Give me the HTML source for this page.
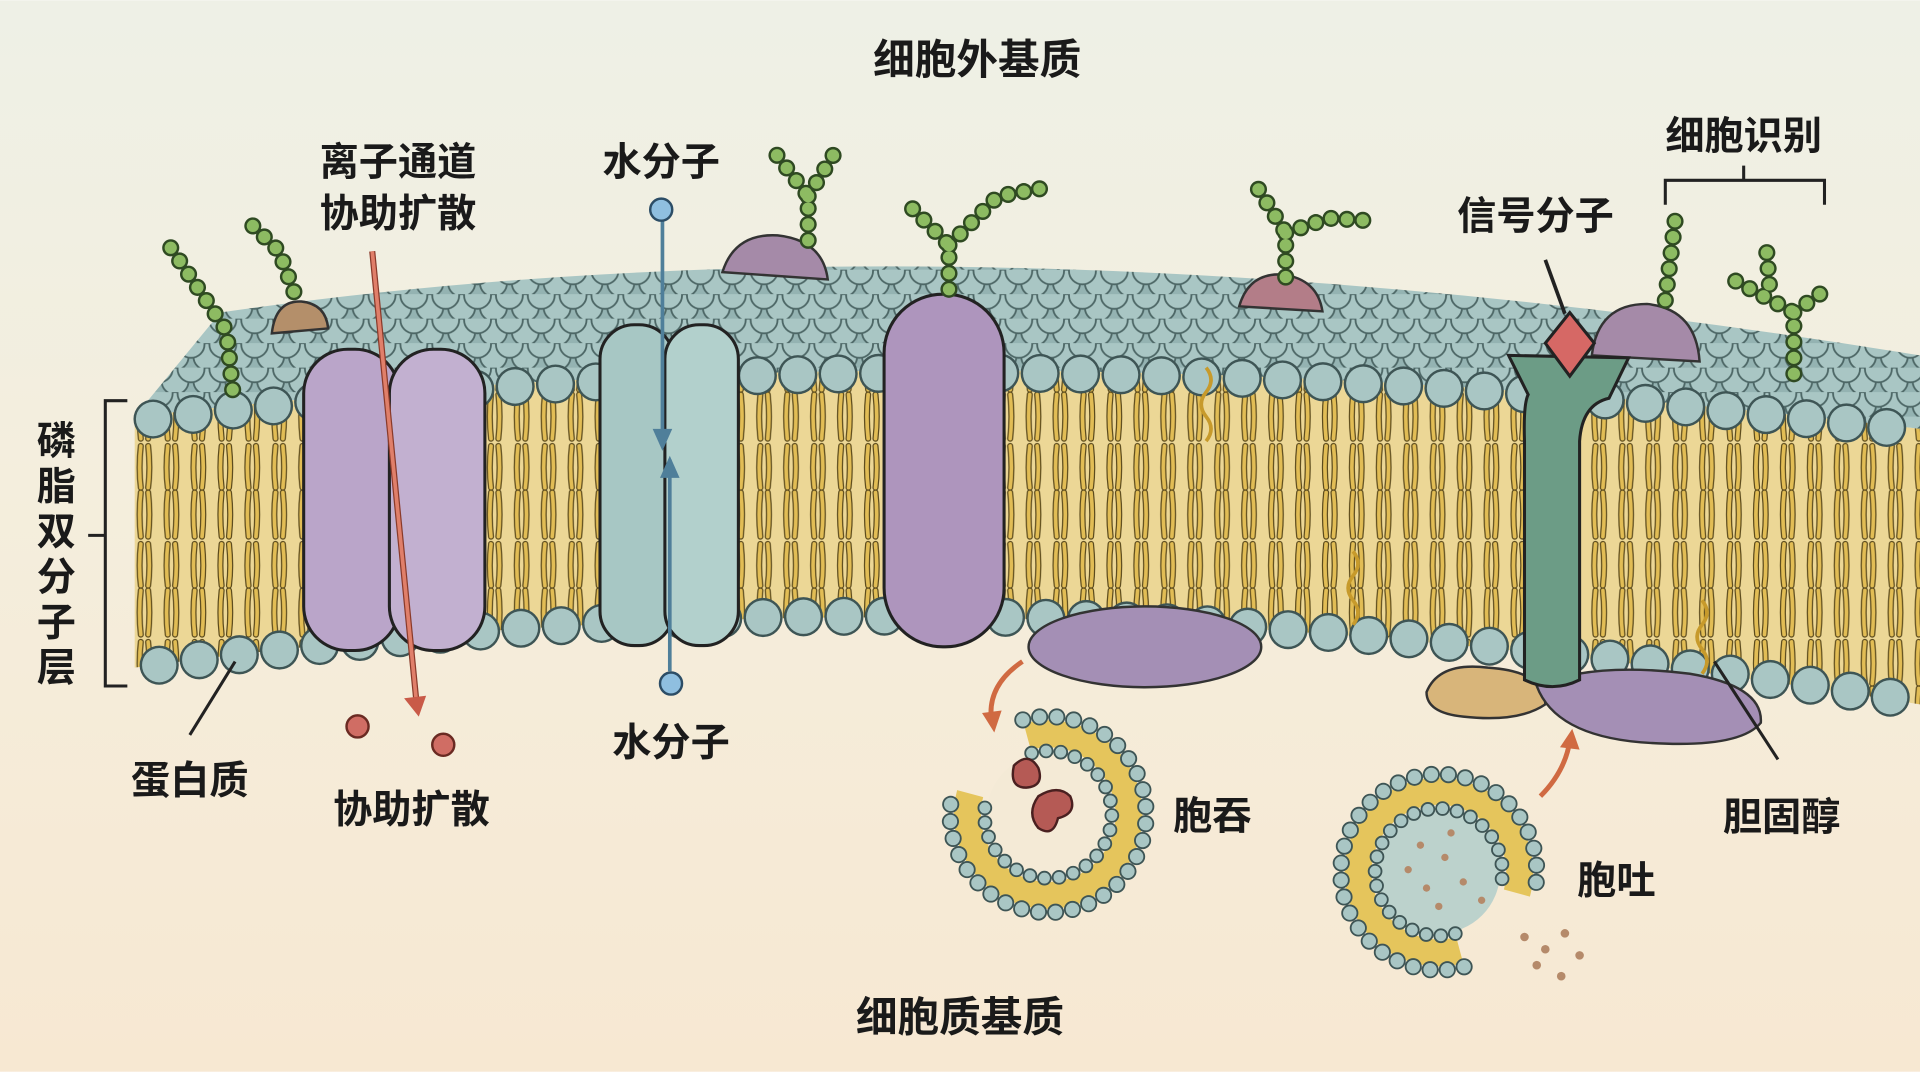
<!DOCTYPE html>
<html><head><meta charset="utf-8"><style>
html,body{margin:0;padding:0;width:1920px;height:1072px;overflow:hidden}
svg{display:block}
text{font-family:"Liberation Sans","Noto Sans CJK SC",sans-serif;font-weight:bold;fill:#1a1a1a}
</style></head><body>
<svg width="1920" height="1072" viewBox="0 0 1568 875" xmlns="http://www.w3.org/2000/svg">
<defs>
<linearGradient id="bg" x1="0" y1="0" x2="0" y2="1">
<stop offset="0" stop-color="#eef0e6"/><stop offset="0.45" stop-color="#f4eedd"/><stop offset="1" stop-color="#f7e8d2"/></linearGradient>
<pattern id="heads" width="26" height="20" patternUnits="userSpaceOnUse">
<rect width="26" height="20" fill="#94b3b2"/>
<circle cx="13" cy="11" r="11" fill="#a9c6c4" stroke="#4d6766" stroke-width="1.5"/>
<circle cx="0" cy="1" r="11" fill="#a9c6c4" stroke="#4d6766" stroke-width="1.5"/>
<circle cx="26" cy="1" r="11" fill="#a9c6c4" stroke="#4d6766" stroke-width="1.5"/>
</pattern>
<pattern id="tails" width="22" height="80" patternUnits="userSpaceOnUse">
<rect width="22" height="80" fill="#ecd796"/>
<path d="M5,2 q-2,18 0,36 M11,2 q2,18 0,36 M5,44 q-2,18 0,34 M11,44 q2,18 0,34" stroke="#5b4a1c" stroke-width="5" fill="none" stroke-linecap="round"/>
<path d="M5,2 q-2,18 0,36 M11,2 q2,18 0,36 M5,44 q-2,18 0,34 M11,44 q2,18 0,34" stroke="#e2bd55" stroke-width="3" fill="none" stroke-linecap="round"/>
</pattern>
</defs>
<rect width="1568" height="875" fill="url(#bg)"/>

<!-- top surface -->
<path d="M180,255 Q800,165 1568,290 L1568,350 Q800,260 110,340 Z" fill="url(#heads)"/>
<!-- front face -->
<path d="M110,340 Q800,260 1568,350 L1568,575 Q800,450 110,545 Z" fill="url(#tails)"/>
<!-- head rows -->
<g fill="none" stroke-linecap="round">
<path d="M125,342 Q800,262 1568,352" stroke="#3e5555" stroke-width="32" stroke-dasharray="0 33"/>
<path d="M125,342 Q800,262 1568,352" stroke="#a9c6c4" stroke-width="28" stroke-dasharray="0 33"/>
<path d="M130,543 Q800,450 1568,573" stroke="#3e5555" stroke-width="32" stroke-dasharray="0 33"/>
<path d="M130,543 Q800,450 1568,573" stroke="#a9c6c4" stroke-width="28" stroke-dasharray="0 33"/>
</g>

<!-- bumps on top -->
<path d="M222,272 Q225,245 246,246 Q266,248 268,268 Z" fill="#b48f6a" stroke="#333" stroke-width="2"/>
<path d="M590,222 Q600,190 635,192 Q672,196 676,228 Z" fill="#a58aa8" stroke="#333" stroke-width="2"/>
<path d="M1012,250 Q1020,222 1048,224 Q1076,228 1080,254 Z" fill="#b37d88" stroke="#333" stroke-width="2"/>
<path d="M1300,290 Q1305,248 1345,248 Q1385,252 1388,295 Z" fill="#a58aa8" stroke="#333" stroke-width="2"/>

<!-- ion channel -->
<rect x="248" y="285" width="78" height="246" rx="36" fill="#baa5c9" stroke="#222" stroke-width="2.5"/>
<rect x="318" y="285" width="78" height="246" rx="36" fill="#c2b0d0" stroke="#222" stroke-width="2.5"/>
<!-- water channel -->
<rect x="490" y="265" width="60" height="262" rx="28" fill="#a7c7c4" stroke="#222" stroke-width="2.5"/>
<rect x="543" y="265" width="60" height="262" rx="28" fill="#b2d0cc" stroke="#222" stroke-width="2.5"/>
<!-- big oval protein -->
<rect x="722" y="240" width="98" height="288" rx="48" fill="#ae95bd" stroke="#222" stroke-width="2.5"/>
<!-- peripheral bottom -->
<ellipse cx="935" cy="528" rx="95" ry="33" fill="#a48fb5" stroke="#333" stroke-width="2"/>
<!-- receptor bottom blobs -->
<path d="M1165,565 Q1175,540 1215,545 Q1262,548 1262,575 Q1240,590 1195,585 Q1165,582 1165,565 Z" fill="#d8b57a" stroke="#333" stroke-width="2"/>
<path d="M1255,560 Q1300,540 1380,550 Q1440,560 1438,590 Q1420,612 1340,606 Q1270,600 1255,560 Z" fill="#a48fb5" stroke="#333" stroke-width="2"/>
<!-- receptor green -->
<path d="M1232,290 L1330,292 L1314,325 Q1292,330 1290,360 L1290,555 Q1268,566 1245,555 L1245,360 Q1244,330 1248,322 Z" fill="#6c9c86" stroke="#222" stroke-width="2.5"/>
<path d="M1282,255 L1302,280 L1282,307 L1262,280 Z" fill="#d66865" stroke="#222" stroke-width="2.5"/>
<line x1="1262" y1="212" x2="1278" y2="256" stroke="#222" stroke-width="3"/>

<!-- glycan chains -->
<g fill="none" stroke-linecap="round" stroke-linejoin="round">
<g stroke="#2f4a22" stroke-width="14" stroke-dasharray="0 13">
<path d="M190,318 L185,270 L165,240 L138,200"/><path d="M240,238 L228,205 L200,178"/>
<path d="M660,196 L660,160 L628,118"/><path d="M660,160 L682,124"/>
<path d="M775,236 L775,200 L740,165"/><path d="M775,200 L815,160 L860,152"/>
<path d="M1050,226 L1050,190 L1025,150"/><path d="M1050,190 L1085,178 L1118,180"/>
<path d="M1360,245 L1368,180"/>
<path d="M1465,305 L1465,255 L1415,228"/><path d="M1465,255 L1493,235"/><path d="M1445,232 L1442,195"/>
</g>
<g stroke="#8dbb62" stroke-width="10" stroke-dasharray="0 13">
<path d="M190,318 L185,270 L165,240 L138,200"/><path d="M240,238 L228,205 L200,178"/>
<path d="M660,196 L660,160 L628,118"/><path d="M660,160 L682,124"/>
<path d="M775,236 L775,200 L740,165"/><path d="M775,200 L815,160 L860,152"/>
<path d="M1050,226 L1050,190 L1025,150"/><path d="M1050,190 L1085,178 L1118,180"/>
<path d="M1360,245 L1368,180"/>
<path d="M1465,305 L1465,255 L1415,228"/><path d="M1465,255 L1493,235"/><path d="M1445,232 L1442,195"/>
</g>
</g>

<!-- cholesterol squiggles -->
<g fill="none" stroke="#c79a2b" stroke-width="3">
<path d="M985,300 q8,10 0,20 q-8,10 0,20 q8,10 0,20"/>
<path d="M1105,450 q8,10 0,20 q-8,10 0,20 q8,10 0,20"/>
<path d="M1390,490 q8,10 0,20 q-8,10 0,20 q8,10 0,20"/>
</g>

<!-- arrows -->
<line x1="304" y1="205" x2="340" y2="572" stroke="#8a3a2a" stroke-width="5"/>
<line x1="304" y1="205" x2="340" y2="572" stroke="#e07f6a" stroke-width="3"/>
<path d="M330,570 L342,585 L348,568 Z" fill="#c95a48"/>
<line x1="541" y1="180" x2="541" y2="360" stroke="#4f7f9a" stroke-width="3"/>
<path d="M533,350 L541,368 L549,350 Z" fill="#4f7f9a"/>
<line x1="547" y1="375" x2="547" y2="548" stroke="#4f7f9a" stroke-width="3"/>
<path d="M539,390 L547,372 L555,390 Z" fill="#4f7f9a"/>
<circle cx="540" cy="171" r="9" fill="#8fbfe0" stroke="#2c4d66" stroke-width="2"/>
<circle cx="548" cy="558" r="9" fill="#8fbfe0" stroke="#2c4d66" stroke-width="2"/>
<circle cx="292" cy="593" r="9" fill="#d06d64" stroke="#6a2a22" stroke-width="2"/>
<circle cx="362" cy="608" r="9" fill="#d06d64" stroke="#6a2a22" stroke-width="2"/>
<path d="M835,540 Q805,560 810,590" fill="none" stroke="#d06a42" stroke-width="4"/>
<path d="M802,582 L812,598 L818,580 Z" fill="#d06a42"/>
<path d="M1258,650 Q1278,630 1282,605" fill="none" stroke="#d06a42" stroke-width="4"/>
<path d="M1274,610 L1284,595 L1290,612 Z" fill="#d06a42"/>

<!-- endocytosis vesicle -->
<g fill="none" stroke-linecap="round">
<circle cx="856" cy="665" r="50" fill="#f4ead6" stroke="none"/>
<path d="M838.9,601.3 A66,66 0 1 1 792.3,647.9" stroke="#e5c55c" stroke-width="22" stroke-linecap="butt"/>
<path d="M835.3,587.7 A80,80 0 1 1 778.7,644.3" stroke="#3e5555" stroke-width="14" stroke-dasharray="0 14"/>
<path d="M835.3,587.7 A80,80 0 1 1 778.7,644.3" stroke="#a9c6c4" stroke-width="11" stroke-dasharray="0 14"/>
<path d="M842.5,614.8 A52,52 0 1 1 805.8,651.5" stroke="#3e5555" stroke-width="12" stroke-dasharray="0 12"/>
<path d="M842.5,614.8 A52,52 0 1 1 805.8,651.5" stroke="#a9c6c4" stroke-width="9" stroke-dasharray="0 12"/>
</g>
<path d="M828,625 q12,-12 20,2 q5,15 -10,16 q-14,0 -10,-18 Z M848,650 q16,-10 26,0 q6,14 -10,18 q-4,16 -16,8 q-10,-12 0,-26 Z" fill="#b55a55" stroke="#4a2020" stroke-width="2"/>

<!-- exocytosis vesicle -->
<g fill="none" stroke-linecap="round">
<circle cx="1175" cy="712" r="50" fill="#bcd2cc" stroke="none"/>
<path d="M1192.1,775.7 A66,66 0 1 1 1238.8,729.1" stroke="#e5c55c" stroke-width="22" stroke-linecap="butt"/>
<path d="M1195.7,789.3 A80,80 0 1 1 1252.3,732.7" stroke="#3e5555" stroke-width="14" stroke-dasharray="0 14"/>
<path d="M1195.7,789.3 A80,80 0 1 1 1252.3,732.7" stroke="#a9c6c4" stroke-width="11" stroke-dasharray="0 14"/>
<path d="M1188.5,762.2 A52,52 0 1 1 1225.2,725.5" stroke="#3e5555" stroke-width="12" stroke-dasharray="0 12"/>
<path d="M1188.5,762.2 A52,52 0 1 1 1225.2,725.5" stroke="#a9c6c4" stroke-width="9" stroke-dasharray="0 12"/>
</g>
<g fill="#b58a6a">
<circle cx="1160" cy="690" r="3"/><circle cx="1180" cy="700" r="3"/><circle cx="1195" cy="720" r="3"/><circle cx="1165" cy="725" r="3"/>
<circle cx="1150" cy="710" r="3"/><circle cx="1185" cy="680" r="3"/><circle cx="1210" cy="735" r="3"/><circle cx="1175" cy="740" r="3"/>
<circle cx="1245" cy="765" r="3.5"/><circle cx="1262" cy="775" r="3.5"/><circle cx="1255" cy="788" r="3.5"/><circle cx="1278" cy="762" r="3.5"/><circle cx="1275" cy="797" r="3.5"/><circle cx="1290" cy="780" r="3.5"/>
</g>

<!-- brackets -->
<path d="M104,327 L86,327 L86,560 L104,560 M86,437 L72,437" fill="none" stroke="#222" stroke-width="2.5"/>
<path d="M1360,167 L1360,147 L1490,147 L1490,167 M1424,147 L1424,135" fill="none" stroke="#222" stroke-width="2.5"/>
<line x1="155" y1="600" x2="192" y2="540" stroke="#222" stroke-width="2.5"/>
<line x1="1452" y1="620" x2="1400" y2="540" stroke="#222" stroke-width="2.5"/>

<!-- labels -->
<g font-size="32">
<text x="798" y="60" text-anchor="middle" font-size="34">细胞外基质</text>
<text x="784" y="842" text-anchor="middle" font-size="34">细胞质基质</text>
<text x="325" y="143" text-anchor="middle">离子通道</text>
<text x="325" y="185" text-anchor="middle">协助扩散</text>
<text x="540" y="143" text-anchor="middle">水分子</text>
<text x="548" y="617" text-anchor="middle">水分子</text>
<text x="336" y="672" text-anchor="middle">协助扩散</text>
<text x="155" y="648" text-anchor="middle">蛋白质</text>
<text x="1254" y="187" text-anchor="middle">信号分子</text>
<text x="1424" y="122" text-anchor="middle">细胞识别</text>
<text x="990" y="677" text-anchor="middle">胞吞</text>
<text x="1320" y="730" text-anchor="middle">胞吐</text>
<text x="1455" y="678" text-anchor="middle">胆固醇</text>
<text x="46" y="371" text-anchor="middle">磷</text>
<text x="46" y="408" text-anchor="middle">脂</text>
<text x="46" y="445" text-anchor="middle">双</text>
<text x="46" y="482" text-anchor="middle">分</text>
<text x="46" y="519" text-anchor="middle">子</text>
<text x="46" y="556" text-anchor="middle">层</text>
</g>
</svg>
</body></html>
